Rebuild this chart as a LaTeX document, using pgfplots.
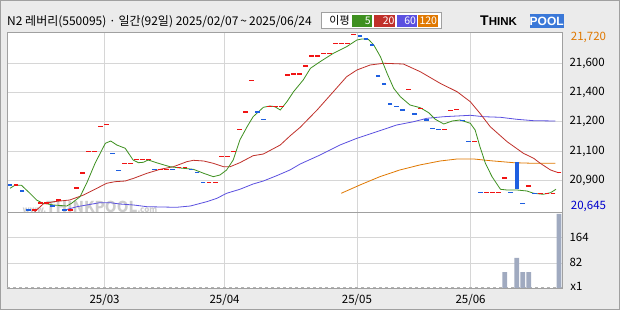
\documentclass[border=0pt]{standalone}
\usepackage{pgfplots}
\pgfplotsset{compat=1.18}
\usepackage{fontspec}
\setmainfont{Noto Sans CJK KR}
\newfontfamily\logofont{Liberation Sans}
\definecolor{bgc}{HTML}{EBEBEB}
\definecolor{framec}{HTML}{A0A0A0}
\definecolor{gridc}{HTML}{D6D6D6}
\definecolor{maG}{HTML}{3E9020}
\definecolor{maR}{HTML}{C0302A}
\definecolor{maB}{HTML}{5B50E0}
\definecolor{maO}{HTML}{E07800}
\definecolor{upR}{HTML}{F01414}
\definecolor{dnB}{HTML}{1E5FE0}
\definecolor{volc}{HTML}{A0AAC0}
\definecolor{logoB}{HTML}{3A78D8}
\definecolor{wmc}{HTML}{CDCDCD}
\begin{document}
\begin{tikzpicture}[x=1pt,y=1pt]
\fill[bgc] (0,0) rectangle (620,310);
\draw[framec] (0.5,0.5) rectangle (619.5,309.5);
% ---------------- price panel ----------------
\begin{axis}[at={(7pt,98pt)}, anchor=south west, scale only axis,
  width=555pt, height=180pt, xmin=-0.5, xmax=91.5, ymin=0, ymax=180,
  axis background/.style={fill=white}, axis line style={framec},
  xtick={15.67,35.57,57.5,76.35}, xticklabels={},
  ytick={31.7,60.7,91,119.7,148.7},
  yticklabels={{20,900},{21,100},{21,200},{21,400},{21,600}},
  yticklabel pos=right, grid=major, grid style={gridc, line width=0.7pt},
  tick style={draw=none}, clip=false,
  yticklabel style={font=\fontsize{11.5}{12}\selectfont, xshift=4pt}]
\node[wmc, font=\bfseries\fontsize{8}{8}\selectfont, anchor=west] at (axis cs:1.5,5.5) {www.{\fontsize{15}{15}\selectfont THINKPOOL}.com};
% MA60
\addplot[maB, line width=0.8pt] coordinates {
(9.1,2) (11.1,5.3) (14.9,9.3) (16.6,9.3) (18.2,8) (20.5,7) (22.7,5.3) (27.6,4.7) (29.9,6) (32.6,10.3) (34.3,13.7) (35.9,18.7) (38.1,22.7) (40.3,28) (42.0,31) (44.2,36.3) (46.4,42) (48.1,48) (51.4,57) (54.7,67) (57.5,73.7) (60.8,80.3) (64.1,87) (66.9,90.3) (69.1,93.7) (71.9,95.3) (74.1,96) (76.3,96.7) (78.5,95.3) (81.3,94.7) (84.0,92.7) (86.8,91.3) (90.4,91)};
% MA120
\addplot[maO, line width=0.8pt] coordinates {
(54.9,18.7) (58.0,27) (61.3,35.3) (64.6,42) (67.9,47) (71.3,51) (74.1,53) (76.9,53) (79.6,51.3) (83.5,49.3) (86.8,48.7) (90.4,48.7)};
% MA20
\addplot[maR, line width=0.8pt] coordinates {
(4.1,0.3) (5.5,8) (7.2,10.3) (9.9,12) (12.2,17) (14.4,23.7) (16.0,28.7) (17.4,30.3) (19.1,31) (20.5,33.7) (22.7,38.7) (24.9,42.7) (27.1,45.3) (29.3,50.3) (30.4,51.7) (32.1,51) (33.7,48.7) (35.4,45.3) (36.5,45.3) (38.1,49.3) (40.3,56.3) (42.0,58) (44.8,67) (46.4,76) (48.1,84.7) (50.9,102) (53.6,120.3) (55.8,135.3) (57.5,142) (59.7,147) (61.9,148.7) (65.2,148) (68.0,140.3) (71.3,128.7) (74.1,120.3) (76.3,110.3) (77.9,98.7) (79.6,85.3) (82.4,70.3) (85.1,58.7) (86.8,53.7) (87.9,48.7) (89.6,42) (90.9,39.3)};
% MA5
\addplot[maG, line width=0.8pt] coordinates {
(0,23.7) (0.8,26.7) (1.9,26.7) (3.3,18.7) (4.4,12) (5.5,8.7) (7.2,7) (9.4,6) (10.2,8.7) (11.6,15.3) (12.7,28.7) (14.1,48.7) (15.8,68.7) (16.7,71) (17.7,67) (19.1,63.7) (20.4,52) (21.3,49.3) (22.1,49.7) (22.9,52) (24.6,48.7) (26.5,45.3) (28.2,44) (30.4,42.7) (32.1,38.7) (33.7,35.3) (34.8,37) (35.9,42) (37.0,52) (38.1,72) (39.3,85.3) (40.3,95.3) (42.0,104.7) (43.1,106) (43.9,105.3) (44.8,102) (45.9,110.3) (47.0,120.3) (48.6,132) (49.8,143.7) (51.4,150.3) (53.6,158.7) (55.8,165.3) (57.5,172) (58.3,173) (59.4,172.7) (60.3,167) (61.4,155.3) (62.5,138.7) (63.6,123.7) (64.7,115.3) (66.3,107) (68.0,104.3) (69.4,99.3) (70.5,92.7) (71.9,88) (73.3,91) (74.6,92) (76.3,88.7) (77.1,82) (77.9,65.3) (78.8,48.7) (79.9,35.3) (81.3,22.7) (82.4,22) (84.0,22) (85.7,21) (86.8,18.7) (88.4,17.7) (89.6,19.3) (90.5,22.7)};
% up days
\addplot[only marks, mark=-, mark size=2.4pt, mark options={draw=upR, line width=1.3pt}] coordinates {
(1,27) (4,2) (5,9) (6,9) (8,12) (10,2) (11,24) (12,39) (13,60.5) (14,60.5) (15,85.3) (16,87.7) (19,48.7) (20,48.7) (21,52.7) (22,52.7) (23,52.7) (25,42.7) (26,42.7) (28,44.7) (29,44.7) (33,29.7) (34,29.7) (35,55.7) (36,55.7) (37,60.7) (38,82.7) (39,100) (40,131.7) (43,105.7) (44,105.7) (45,105.7) (46,137) (47,138) (48,138) (49,146) (50,156) (51,156) (52,158.7) (53,158.7) (54,168.7) (55,168.7) (56,168.7) (57,177.7) (66,122.7) (68,103.7) (72,82.7) (73,101.7) (74,102.7) (77,70.3) (79,19.7) (80,19.7) (81,19.7) (82,34) (86,26) (88,18.7) (89,18.7) (90,18.7) (91,39.3)};
% down days
\addplot[only marks, mark=-, mark size=2.4pt, mark options={draw=dnB, line width=1.3pt}] coordinates {
(0,27) (2,21) (3,2) (7,6) (9,2) (17,58.7) (18,41.7) (24,42.7) (27,42.7) (30,42.7) (31,39.7) (32,29.7) (41,100) (42,92.7) (58,176) (59,173) (60,167) (61,136) (62,128) (63,108) (64,105.7) (65,102) (67,98) (69,92) (70,83.7) (71,82.7) (75,91.3) (76,70.3) (78,19.7) (83,19.7) (85,8.7) (87,18.7)};
% large down candle
\addplot[dnB, line width=4.4pt] coordinates {(84,49.7) (84,23)};
\end{axis}
% ---------------- volume panel ----------------
\begin{axis}[at={(7pt,22pt)}, anchor=south west, scale only axis,
  width=555pt, height=76pt, xmin=-0.5, xmax=91.5, ymin=0, ymax=248,
  axis background/.style={fill=white}, axis line style={framec},
  xtick={15.67,35.57,57.5,76.35}, xticklabels={25/03,25/04,25/05,25/06},
  ytick={82,164}, yticklabels={82,164},
  yticklabel pos=right, grid=major, grid style={gridc, line width=0.7pt},
  tick style={draw=none}, clip=false,
  xticklabel style={font=\fontsize{11.5}{12}\selectfont, yshift=-3pt},
  yticklabel style={font=\fontsize{11.5}{12}\selectfont, xshift=4pt}]
\draw[framec!80, dashed, line width=0.6pt] (axis cs:-0.5,1.5) -- (axis cs:91.5,1.5);
\addplot[ybar, bar width=0.8, bar shift=0pt, fill=volc, draw=none] coordinates {
(82,52) (84,98) (85,52) (86,52) (91,242)};
\end{axis}
% ---------------- labels ----------------
\node[anchor=west, text=maO, font=\fontsize{11.5}{12}\selectfont, inner sep=0pt] at (570.7,272.7) {21,720};
\node[anchor=west, text=blue!80!black, font=\fontsize{11.5}{12}\selectfont, inner sep=0pt] at (570.7,103.3) {20,645};
\node[font=\fontsize{11.5}{12}\selectfont, inner sep=0pt] at (576.5,23.3) {x1};
\node[anchor=west, inner sep=0pt, font=\fontsize{12}{13}\selectfont] at (7,288) {N2 레버리(550095) · 일간(92일) 2025/02/07\,\textasciitilde\,2025/06/24};
% legend box
\draw[framec, fill=white] (321,297.7) rectangle (441,281.3);
\node[font=\fontsize{11}{11}\selectfont, inner sep=0pt] at (339.5,289.5) {이평};
\fill[maG] (352,295) rectangle (371.7,283.3);
\fill[maR] (373.7,295) rectangle (395.4,283.3);
\fill[maB] (397.4,295) rectangle (417,283.3);
\fill[maO] (418.3,295) rectangle (438,283.3);
\node[anchor=east, text=white, font=\fontsize{10.5}{10}\selectfont, inner sep=0.8pt] at (371.7,289.2) {5};
\node[anchor=east, text=white, font=\fontsize{10.5}{10}\selectfont, inner sep=0.8pt] at (395.4,289.2) {20};
\node[anchor=east, text=white, font=\fontsize{10.5}{10}\selectfont, inner sep=0.8pt] at (417,289.2) {60};
\node[anchor=east, text=white, font=\fontsize{10.5}{10}\selectfont, inner sep=0.8pt] at (438,289.2) {120};
% logo
\node[anchor=west, inner sep=0pt, font=\logofont\bfseries\fontsize{14}{14}\selectfont] at (480,289) {T\fontsize{11.5}{12}\selectfont HINK};
\fill[logoB] (530,296.3) rectangle (563.5,281.7);
\node[text=white, inner sep=0pt, font=\logofont\bfseries\fontsize{12}{12}\selectfont] at (546.7,289) {POOL};
\end{tikzpicture}
\end{document}
